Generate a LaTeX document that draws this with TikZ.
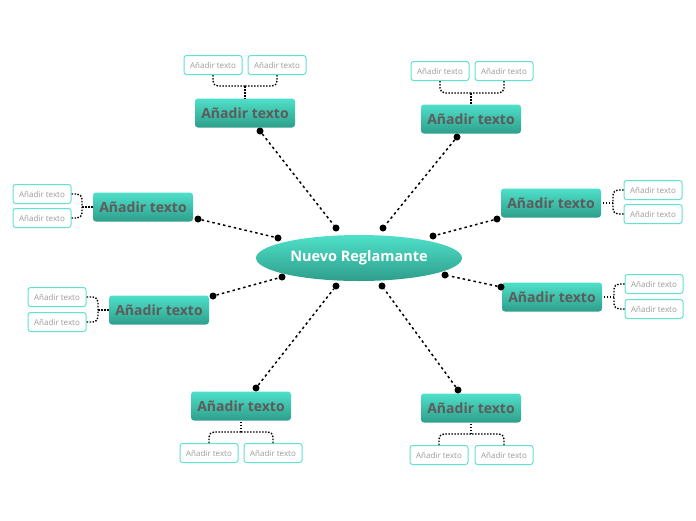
\documentclass[tikz,border=0pt]{standalone}
\usepackage{fontspec}
\setmainfont{Open Sans}
\usetikzlibrary{shapes.geometric}
\definecolor{tealtop}{HTML}{4FE0C9}
\definecolor{tealbot}{HTML}{2E9E8B}
\definecolor{txtgray}{HTML}{5C5C5C}
\definecolor{subborder}{HTML}{62E3CF}
\definecolor{subtext}{HTML}{9A9A9A}
\tikzset{
  mainbox/.style={rounded corners=3pt, minimum width=100pt, minimum height=29pt, inner sep=0pt,
    top color=tealtop, bottom color=tealbot, text=txtgray, font=\bfseries\fontsize{14}{16}\selectfont},
  subbox/.style={draw=subborder, line width=1pt, rounded corners=2.5pt, fill=white,
    minimum width=58pt, minimum height=19pt, inner sep=0pt, text=subtext, font=\fontsize{8}{9}\selectfont},
  centre/.style={ellipse, minimum width=206pt, minimum height=46pt, inner sep=0pt,
    top color=tealtop, bottom color=tealbot, text=white, font=\bfseries\fontsize{14.5}{16}\selectfont},
  link/.style={line width=1.5pt, dash pattern=on 2.5pt off 3pt, black},
  bracket/.style={line width=1.4pt, dash pattern=on 1.5pt off 1.5pt, black, rounded corners=5pt},
  dotp/.style={circle, fill=black, inner sep=0pt, minimum size=7pt}
}
\begin{document}
\begin{tikzpicture}[x=1pt,y=-1pt]
\useasboundingbox (0,0) rectangle (696,520);
\node[centre] (e) at (359,258) {Nuevo Reglamante};
% main nodes
\node[mainbox] (m1) at (245,113) {Añadir texto};
\node[mainbox] (m2) at (471,119) {Añadir texto};
\node[mainbox] (m3) at (143,207) {Añadir texto};
\node[mainbox] (m4) at (551,203) {Añadir texto};
\node[mainbox] (m5) at (159,310) {Añadir texto};
\node[mainbox] (m6) at (552,297) {Añadir texto};
\node[mainbox] (m7) at (241,406) {Añadir texto};
\node[mainbox] (m8) at (471,408) {Añadir texto};
% sub nodes
\node[subbox] (s1a) at (213,65) {Añadir texto};
\node[subbox] (s1b) at (277,65) {Añadir texto};
\node[subbox] (s2a) at (440,71) {Añadir texto};
\node[subbox] (s2b) at (504,71) {Añadir texto};
\node[subbox] (s3a) at (42,194) {Añadir texto};
\node[subbox] (s3b) at (42,218) {Añadir texto};
\node[subbox] (s4a) at (653,190) {Añadir texto};
\node[subbox] (s4b) at (653,214) {Añadir texto};
\node[subbox] (s5a) at (57,297) {Añadir texto};
\node[subbox] (s5b) at (57,322) {Añadir texto};
\node[subbox] (s6a) at (654,284) {Añadir texto};
\node[subbox] (s6b) at (654,309) {Añadir texto};
\node[subbox] (s7a) at (209,453) {Añadir texto};
\node[subbox] (s7b) at (273,453) {Añadir texto};
\node[subbox] (s8a) at (439,455) {Añadir texto};
\node[subbox] (s8b) at (504,455) {Añadir texto};
% dots on main nodes
\node[dotp] (d1) at (260,131) {};
\node[dotp] (d2) at (457,137) {};
\node[dotp] (d3) at (198,219) {};
\node[dotp] (d4) at (497,219) {};
\node[dotp] (d5) at (213,296) {};
\node[dotp] (d6) at (501,287) {};
\node[dotp] (d7) at (256,388) {};
\node[dotp] (d8) at (458,390) {};
% dots at ellipse
\node[dotp] (e1) at (336,228) {};
\node[dotp] (e2) at (383,228) {};
\node[dotp] (e3) at (278,238) {};
\node[dotp] (e4) at (433,236) {};
\node[dotp] (e5) at (282,277) {};
\node[dotp] (e6) at (445,275) {};
\node[dotp] (e7) at (336,286) {};
\node[dotp] (e8) at (382,286) {};
% links
\draw[link] (d1) -- (e1);
\draw[link] (d2) -- (e2);
\draw[link] (d3) -- (e3);
\draw[link] (d4) -- (e4);
\draw[link] (d5) -- (e5);
\draw[link] (d6) -- (e6);
\draw[link] (d7) -- (e7);
\draw[link] (d8) -- (e8);
% brackets
\coordinate (j1) at (245,86);
\draw[bracket] (s1a.south) |- (j1);
\draw[bracket] (s1b.south) |- (j1);
\draw[bracket] (j1) -- (m1.north);
\coordinate (j2) at (471,93);
\draw[bracket] (s2a.south) |- (j2);
\draw[bracket] (s2b.south) |- (j2);
\draw[bracket] (j2) -- (m2.north);
\coordinate (j3) at (82,207);
\draw[bracket] (s3a.east) -| (j3);
\draw[bracket] (s3b.east) -| (j3);
\draw[bracket] (j3) -- (m3.west);
\coordinate (j4) at (613,203);
\draw[bracket] (s4a.west) -| (j4);
\draw[bracket] (s4b.west) -| (j4);
\draw[bracket] (j4) -- (m4.east);
\coordinate (j5) at (98,310);
\draw[bracket] (s5a.east) -| (j5);
\draw[bracket] (s5b.east) -| (j5);
\draw[bracket] (j5) -- (m5.west);
\coordinate (j6) at (614,297);
\draw[bracket] (s6a.west) -| (j6);
\draw[bracket] (s6b.west) -| (j6);
\draw[bracket] (j6) -- (m6.east);
\coordinate (j7) at (241,432);
\draw[bracket] (s7a.north) |- (j7);
\draw[bracket] (s7b.north) |- (j7);
\draw[bracket] (j7) -- (m7.south);
\coordinate (j8) at (471,434);
\draw[bracket] (s8a.north) |- (j8);
\draw[bracket] (s8b.north) |- (j8);
\draw[bracket] (j8) -- (m8.south);
\end{tikzpicture}
\end{document}
